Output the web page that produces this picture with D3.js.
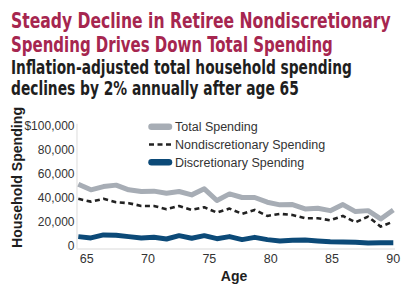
<!DOCTYPE html>
<html>
<head>
<meta charset="utf-8">
<script src="https://cdn.jsdelivr.net/npm/d3@7"></script>
<style>
  body { margin: 0; background: #fff; }
  svg { display: block; }
  text { font-family: "Liberation Sans", Arial, sans-serif; }
  .title, .subtitle { font-family: "Liberation Sans Narrow", "DejaVu Sans Condensed", "Liberation Sans", sans-serif; }
</style>
</head>
<body>
<div id="chart"></div>
<script>
// chart data
var ages = d3.range(65, 91);
var totalSpending = [51400, 46700, 49400, 50600, 46700, 45300, 45600, 43900, 45300, 42500,
                     47500, 37800, 43300, 40300, 40300, 36400, 34200, 34400, 30800, 31400,
                     29400, 34400, 28600, 29400, 22500, 30000];
var nondiscSpending = [39200, 36900, 39200, 36400, 35600, 33300, 33300, 30600, 33300, 30000,
                       32200, 27800, 31100, 26700, 30000, 25000, 26700, 25800, 23100, 23100,
                       21400, 25000, 19700, 24400, 16100, 20300];
var discSpending = [7800, 6700, 9200, 9000, 7800, 6700, 7200, 5800, 8600, 6400,
                    8600, 6100, 7800, 5300, 7200, 5300, 4200, 4700, 5000, 4200,
                    3600, 3300, 3100, 2500, 2800, 2800];
var yTicks = [0, 20000, 40000, 60000, 80000, 100000];
var xTicks = [65, 70, 75, 80, 85, 90];
var titleLines = ["Steady Decline in Retiree Nondiscretionary", "Spending Drives Down Total Spending"];
var subtitleLines = ["Inflation-adjusted total household spending", "declines by 2% annually after age 65"];

var series = [
  {name: "Total Spending", values: totalSpending, color: "#a7adb5", width: 5, dash: null},
  {name: "Nondiscretionary Spending", values: nondiscSpending, color: "#222", width: 2.6, dash: "5,3.5"},
  {name: "Discretionary Spending", values: discSpending, color: "#0c4a78", width: 5, dash: null}
];

var W = 415, H = 301;
var plotLeft = 77, plotRight = 395, plotTop = 125.7, plotBottom = 246;

var svg = d3.select("#chart").append("svg")
  .attr("width", W).attr("height", H);

// squeeze a text horizontally to a target width
function fitWidth(sel, widths) {
  sel.each(function(d, i) {
    var t = d3.select(this);
    var w = this.getComputedTextLength();
    var sx = widths[i] / w;
    var x0 = +t.attr("x"), y0 = +t.attr("y");
    t.attr("x", 0).attr("y", 0)
      .attr("transform", "translate(" + x0 + "," + y0 + ") scale(" + sx + ",1)");
  });
}

// titles
var titleW = [380, 322];
svg.selectAll(".title").data(titleLines).enter().append("text")
  .attr("class", "title")
  .attr("x", 11).attr("y", function(d, i) { return 27.5 + i * 24.3; })
  .style("font-size", "20.5px").style("font-weight", "bold")
  .style("fill", "#a6264f")
  .text(function(d) { return d; })
  .call(fitWidth, titleW);

var subW = [341, 288];
svg.selectAll(".subtitle").data(subtitleLines).enter().append("text")
  .attr("class", "subtitle")
  .attr("x", 11).attr("y", function(d, i) { return 74 + i * 20.5; })
  .style("font-size", "20px").style("font-weight", "bold")
  .style("fill", "#1e1e1e")
  .text(function(d) { return d; })
  .call(fitWidth, subW);

// scales
var y = d3.scaleLinear().domain([0, 100000]).range([plotBottom, plotTop]);
var x = d3.scaleLinear().domain([65, 90]).range([86.7, 393.3]);   // axis labels
var xPts = d3.scalePoint().domain(ages).range([78.3, 393.3]);     // data points

// axis lines
svg.append("line")
  .attr("x1", plotLeft).attr("x2", plotLeft)
  .attr("y1", plotTop - 2).attr("y2", 249)
  .style("stroke", "#e2e2e2").style("stroke-width", 1.2);
svg.append("line")
  .attr("x1", plotLeft).attr("x2", plotRight)
  .attr("y1", 249).attr("y2", 249)
  .style("stroke", "#ececec").style("stroke-width", 2);

// y tick labels
svg.selectAll(".ytick").data(yTicks).enter().append("text")
  .attr("class", "ytick")
  .attr("x", 74.5).attr("y", function(d) { return y(d); })
  .attr("dy", "0.35em")
  .attr("text-anchor", "end")
  .style("font-size", "12px").style("fill", "#333")
  .text(function(d) { return d == 100000 ? "$" + d3.format(",")(d) : d3.format(",")(d); });

// x tick labels
svg.selectAll(".xtick").data(xTicks).enter().append("text")
  .attr("class", "xtick")
  .attr("x", function(d) { return x(d); }).attr("y", 263)
  .attr("text-anchor", "middle")
  .style("font-size", "12.5px").style("fill", "#333")
  .text(function(d) { return d; });

// axis titles
svg.append("text")
  .attr("x", 234).attr("y", 281)
  .attr("text-anchor", "middle")
  .style("font-size", "14px").style("font-weight", "bold").style("fill", "#1e1e1e")
  .text("Age");

svg.append("text")
  .attr("transform", "translate(21.5,177.5) rotate(-90)")
  .attr("text-anchor", "middle")
  .attr("textLength", 141).attr("lengthAdjust", "spacingAndGlyphs")
  .style("font-size", "14px").style("font-weight", "bold").style("fill", "#1e1e1e")
  .text("Household Spending");

// lines
var line = d3.line()
  .x(function(d, i) { return xPts(ages[i]); })
  .y(function(d) { return y(d); });

svg.selectAll(".series").data(series).enter().append("path")
  .attr("class", "series")
  .attr("d", function(d) { return line(d.values); })
  .style("fill", "none")
  .style("stroke", function(d) { return d.color; })
  .style("stroke-width", function(d) { return d.width; })
  .style("stroke-dasharray", function(d) { return d.dash; })
  .style("stroke-linejoin", "round");

// legend
var legend = svg.selectAll(".legend").data(series).enter().append("g")
  .attr("class", "legend")
  .attr("transform", function(d, i) { return "translate(149," + (126.7 + i * 17.8) + ")"; });

legend.append("line")
  .attr("x1", function(d) { return d.dash ? 0 : 2.5; })
  .attr("x2", function(d) { return d.dash ? 22 : 20; })
  .style("stroke", function(d) { return d.color; })
  .style("stroke-width", function(d) { return d.dash ? 2.6 : 6.5; })
  .style("stroke-dasharray", function(d) { return d.dash; })
  .style("stroke-linecap", function(d) { return d.dash ? "butt" : "round"; });

legend.append("text")
  .attr("x", 26).attr("dy", "0.35em")
  .style("font-size", "12.5px").style("fill", "#333")
  .text(function(d) { return d.name; });
</script>
</body>
</html>
